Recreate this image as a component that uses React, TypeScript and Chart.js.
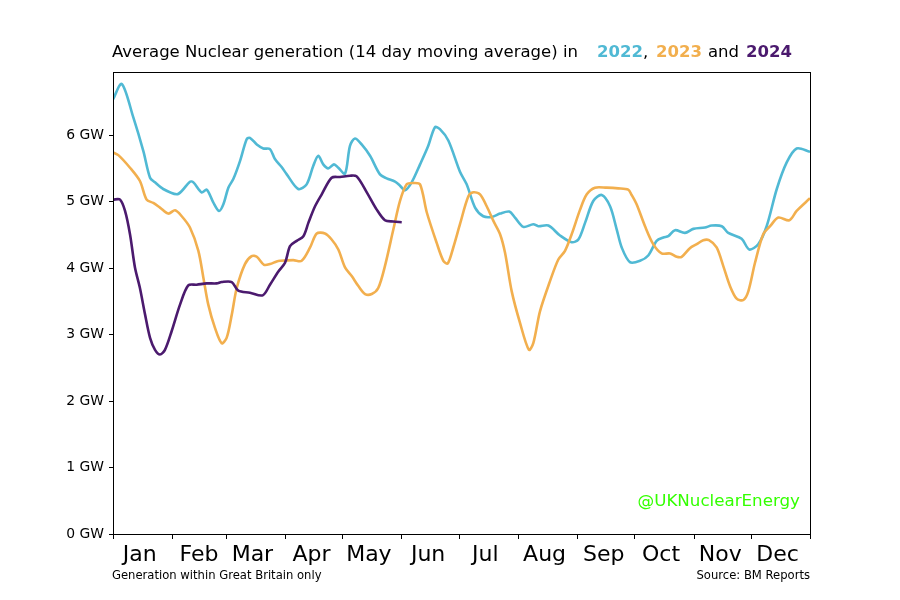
import React, { useEffect, useRef } from "react";
import { Chart, registerables } from "chart.js";

Chart.register(...registerables);

const FONT = "'DejaVu Sans', 'Liberation Sans', sans-serif";

const monthLabels = ["Jan", "Feb", "Mar", "Apr", "May", "Jun", "Jul", "Aug", "Sep", "Oct", "Nov", "Dec"];
const monthStarts = [0, 31, 59, 90, 120, 151, 181, 212, 243, 273, 304, 334, 365];
const labelDayOfMonth = 14;
const yTicks = [0, 1, 2, 3, 4, 5, 6];

const days2022 = [0, 4.6, 10.6, 15.9, 19.4, 22.0, 26.3, 33.4, 36.0, 40.3, 42.1, 46.4, 49.1, 52.5, 55.5, 57.8, 60.4, 63.0, 66.5, 70.0, 71.7, 75.3, 78.7, 82.2, 84.8, 88.3, 91.0, 97.0, 101.4, 104.9, 107.5, 110.1, 112.7, 115.7, 118.0, 121.5, 124.1, 126.7, 130.2, 134.6, 139.8, 143.3, 147.7, 150.3, 152.9, 156.4, 160.8, 165.1, 168.6, 171.2, 175.6, 181.7, 185.2, 189.6, 193.9, 198.3, 202.7, 207.5, 210.5, 214.9, 220.1, 222.7, 228.0, 234.1, 240.2, 243.7, 247.2, 251.5, 255.9, 260.3, 263.8, 266.4, 270.7, 276.0, 280.3, 284.7, 288.2, 290.8, 294.3, 299.5, 303.9, 310.0, 313.5, 318.8, 322.2, 329.2, 333.2, 337.9, 342.3, 347.6, 352.8, 358.0, 365];
const gw2022 = [6.54, 6.77, 6.27, 5.76, 5.36, 5.29, 5.19, 5.11, 5.16, 5.30, 5.29, 5.14, 5.18, 4.99, 4.86, 4.96, 5.21, 5.34, 5.61, 5.94, 5.96, 5.86, 5.80, 5.79, 5.64, 5.52, 5.41, 5.19, 5.26, 5.54, 5.69, 5.56, 5.50, 5.56, 5.51, 5.42, 5.84, 5.95, 5.86, 5.69, 5.41, 5.35, 5.30, 5.24, 5.17, 5.29, 5.56, 5.84, 6.12, 6.09, 5.92, 5.45, 5.26, 4.91, 4.78, 4.77, 4.82, 4.85, 4.76, 4.62, 4.66, 4.63, 4.64, 4.49, 4.39, 4.43, 4.68, 5.01, 5.10, 4.93, 4.58, 4.31, 4.09, 4.11, 4.19, 4.41, 4.46, 4.48, 4.57, 4.53, 4.59, 4.61, 4.64, 4.63, 4.53, 4.44, 4.28, 4.36, 4.63, 5.19, 5.59, 5.80, 5.75];

const days2023 = [0, 2.8, 8.9, 14.1, 17.6, 21.1, 24.6, 29.0, 32.5, 36.0, 40.3, 44.7, 47.3, 49.9, 53.4, 56.9, 59.5, 62.2, 64.8, 69.1, 72.6, 75.3, 79.1, 82.2, 85.7, 87.5, 94.4, 98.8, 103.2, 106.7, 111.0, 114.5, 118.0, 121.5, 125.0, 128.5, 132.0, 135.5, 138.9, 142.4, 146.8, 150.3, 153.8, 157.3, 160.8, 164.3, 169.5, 173.0, 175.3, 178.2, 181.7, 186.1, 188.7, 192.2, 195.7, 199.2, 202.7, 205.3, 208.8, 213.1, 217.8, 220.1, 223.6, 228.8, 233.2, 236.7, 240.2, 244.6, 248.1, 252.4, 258.5, 264.6, 269.8, 271.6, 274.2, 278.6, 282.9, 287.3, 291.7, 295.2, 297.8, 302.1, 305.7, 309.1, 312.1, 316.1, 319.6, 323.1, 326.6, 330.1, 332.7, 336.2, 340.5, 344.1, 348.4, 354.2, 358.0, 365];
const gw2023 = [5.74, 5.70, 5.51, 5.31, 5.03, 4.98, 4.91, 4.82, 4.87, 4.78, 4.61, 4.26, 3.86, 3.45, 3.10, 2.87, 2.95, 3.30, 3.70, 4.06, 4.18, 4.17, 4.05, 4.06, 4.10, 4.11, 4.12, 4.11, 4.31, 4.52, 4.52, 4.43, 4.28, 4.01, 3.88, 3.73, 3.61, 3.61, 3.70, 4.03, 4.58, 5.01, 5.26, 5.28, 5.26, 4.84, 4.38, 4.11, 4.07, 4.31, 4.66, 5.08, 5.14, 5.11, 4.93, 4.71, 4.51, 4.23, 3.65, 3.18, 2.77, 2.87, 3.35, 3.80, 4.13, 4.26, 4.51, 4.88, 5.11, 5.21, 5.21, 5.20, 5.18, 5.10, 4.96, 4.63, 4.36, 4.22, 4.22, 4.17, 4.17, 4.30, 4.36, 4.42, 4.42, 4.31, 4.03, 3.73, 3.54, 3.52, 3.65, 4.08, 4.51, 4.63, 4.76, 4.72, 4.86, 5.05];

const days2024 = [0, 3.7, 6.3, 8.9, 11.5, 14.1, 16.8, 19.4, 22.0, 24.6, 27.2, 30.7, 35.1, 39.4, 43.8, 49.1, 54.3, 56.9, 62.2, 65.6, 71.7, 78.4, 82.2, 86.6, 90.1, 92.7, 96.2, 99.7, 102.3, 105.8, 109.3, 114.5, 118.9, 124.1, 127.6, 132.9, 138.1, 142.4, 146.8, 151.2];
const gw2024 = [5.03, 5.03, 4.86, 4.51, 4.01, 3.70, 3.30, 2.95, 2.77, 2.70, 2.77, 3.05, 3.45, 3.74, 3.75, 3.77, 3.77, 3.79, 3.79, 3.66, 3.63, 3.59, 3.75, 3.95, 4.08, 4.33, 4.41, 4.48, 4.68, 4.93, 5.11, 5.36, 5.37, 5.39, 5.38, 5.14, 4.88, 4.72, 4.70, 4.69];

const COLOR_2022 = "#50B9D4";
const COLOR_2023 = "#F2AF4E";
const COLOR_2024 = "#4B1A6E";

const toPoints = (xs: number[], ys: number[]) => xs.map((x, i) => ({ x, y: ys[i] }));

const decorPlugin = {
  id: "decor",
  afterDraw(chart: any) {
    const { ctx, chartArea } = chart;
    const xScale = chart.scales.x;
    ctx.save();
    // frame
    ctx.strokeStyle = "#000";
    ctx.lineWidth = 1;
    ctx.strokeRect(Math.round(chartArea.left) + 0.5, Math.round(chartArea.top) + 0.5,
      Math.round(chartArea.right - chartArea.left), Math.round(chartArea.bottom - chartArea.top));
    // month boundary tick marks
    monthStarts.forEach((d) => {
      const px = Math.round(xScale.getPixelForValue(d)) + 0.5;
      ctx.beginPath();
      ctx.moveTo(px, chartArea.bottom);
      ctx.lineTo(px, chartArea.bottom + 5);
      ctx.stroke();
    });
    // title
    ctx.textBaseline = "alphabetic";
    ctx.textAlign = "left";
    const ty = 57;
    const parts: [string, string, boolean, number][] = [
      ["Average Nuclear generation (14 day moving average) in", "#000", false, 112],
      ["2022", COLOR_2022, true, 597],
      [",", "#000", false, 643],
      ["2023", COLOR_2023, true, 656],
      ["and", "#000", false, 708],
      ["2024", COLOR_2024, true, 746],
    ];
    parts.forEach(([text, color, bold, x]) => {
      ctx.font = `${bold ? "bold " : ""}16.5px ${FONT}`;
      ctx.fillStyle = color;
      ctx.fillText(text, x, ty);
    });
    // footers
    ctx.font = `11.6px ${FONT}`;
    ctx.fillStyle = "#000";
    ctx.fillText("Generation within Great Britain only", 112, 579);
    ctx.textAlign = "right";
    ctx.fillText("Source: BM Reports", chartArea.right, 579);
    // watermark
    ctx.font = `16.7px ${FONT}`;
    ctx.fillStyle = "#33FF00";
    ctx.fillText("@UKNuclearEnergy", chartArea.right - 10, 506);
    ctx.restore();
  },
};

export default function App() {
  const canvasRef = useRef<HTMLCanvasElement | null>(null);

  useEffect(() => {
    if (!canvasRef.current) return;
    const lineDs = (label: string, xs: number[], ys: number[], color: string, order: number) => ({
      label,
      data: toPoints(xs, ys),
      borderColor: color,
      backgroundColor: color,
      borderWidth: 2.6,
      pointRadius: 0,
      tension: 0.3,
      fill: false,
      order,
    });
    const chart = new Chart(canvasRef.current, {
      type: "line",
      data: {
        datasets: [
          lineDs("2024", days2024, gw2024, COLOR_2024, 0),
          lineDs("2023", days2023, gw2023, COLOR_2023, 1),
          lineDs("2022", days2022, gw2022, COLOR_2022, 2),
        ],
      },
      options: {
        responsive: false,
        animation: false,
        devicePixelRatio: 1,
        layout: { padding: { top: 72, right: 90, left: 0, bottom: 0 } },
        plugins: {
          legend: { display: false },
          title: { display: false },
          tooltip: { enabled: false },
        },
        scales: {
          x: {
            type: "linear",
            min: 0,
            max: 365,
            afterFit: (scale: any) => { scale.height = 66; },
            afterBuildTicks: (scale: any) => {
              scale.ticks = monthLabels.map((_, i) => ({ value: monthStarts[i] + labelDayOfMonth }));
            },
            grid: { display: false },
            border: { display: true, color: "#000", width: 1 },
            ticks: {
              autoSkip: false,
              maxRotation: 0,
              padding: 0,
              color: "#000",
              font: { family: FONT, size: 22 },
              callback: (_v: any, i: number) => monthLabels[i],
            },
          },
          y: {
            min: 0,
            max: 6.95,
            afterFit: (scale: any) => { scale.width = 113; },
            afterBuildTicks: (scale: any) => {
              scale.ticks = yTicks.map((v) => ({ value: v }));
            },
            grid: { drawOnChartArea: false, drawTicks: true, tickLength: 4, color: "#000" },
            border: { display: true, color: "#000", width: 1 },
            ticks: {
              padding: 5,
              color: "#000",
              font: { family: FONT, size: 13.9 },
              callback: (v: any) => `${v} GW`,
            },
          },
        },
      },
      plugins: [decorPlugin],
    } as any);
    return () => chart.destroy();
  }, []);

  return (
    <div style={{ position: "absolute", left: 0, top: 0, width: 900, height: 600, background: "#fff" }}>
      <canvas ref={canvasRef} width={900} height={600} style={{ display: "block" }} />
    </div>
  );
}
